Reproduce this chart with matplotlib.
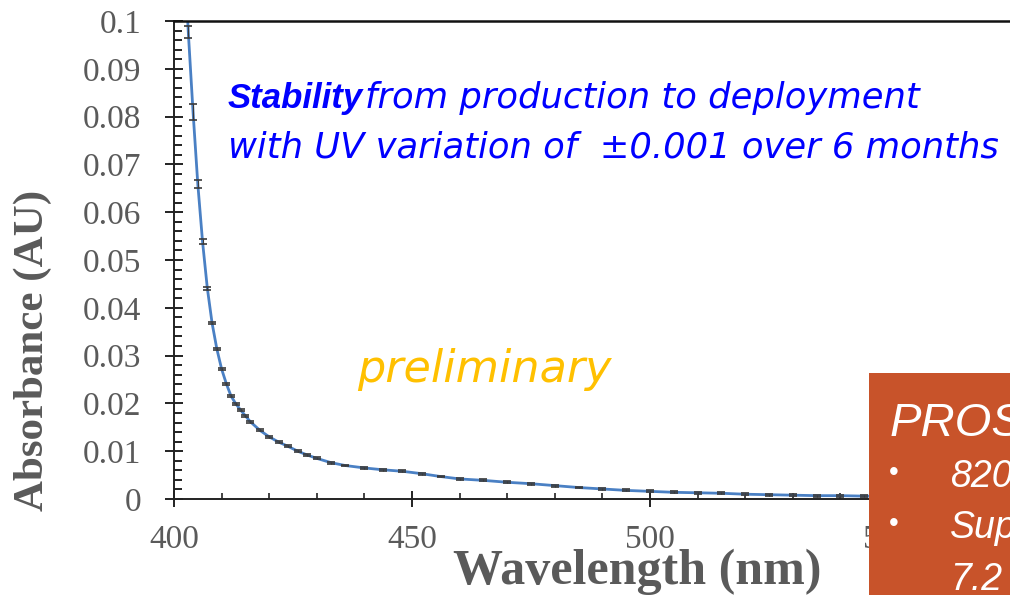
import matplotlib
matplotlib.use('Agg')
import matplotlib.pyplot as plt
from matplotlib.patches import Rectangle
from matplotlib.ticker import MultipleLocator, FuncFormatter

# absorbance spectrum with measurement error bars
wavelength = [402, 403, 404, 405, 406, 407, 408, 409, 410, 411, 412, 413, 414,
              415, 416, 418, 420, 422, 424, 426, 428, 430, 433, 436, 440, 444,
              448, 452, 456, 460, 465, 470, 475, 480, 485, 490, 495, 500, 505,
              510, 515, 520, 525, 530, 535, 540, 545, 550, 560]
absorbance = [0.118, 0.0977, 0.0810, 0.0659, 0.0538, 0.0441, 0.0368, 0.0314,
              0.0272, 0.0241, 0.0215, 0.0199, 0.0186, 0.0174, 0.0162, 0.0144,
              0.0130, 0.0119, 0.0110, 0.0100, 0.0092, 0.0085, 0.0076, 0.0070,
              0.0065, 0.0061, 0.0058, 0.0053, 0.0047, 0.0042, 0.0039, 0.0035,
              0.0032, 0.0028, 0.0024, 0.0021, 0.0018, 0.0016, 0.0014, 0.0013,
              0.0012, 0.0010, 0.0009, 0.0008, 0.0007, 0.0007, 0.0006, 0.0006,
              0.0005]
abs_err = [0.002, 0.0012, 0.0017, 0.0008, 0.0005, 0.0003, 0.0002, 0.0002,
           0.0002, 0.0002, 0.0002, 0.0002, 0.0002, 0.0002, 0.0002, 0.0002,
           0.0002, 0.0002, 0.0002, 0.0002, 0.0002, 0.0002, 0.0002, 0.0002,
           0.0002, 0.0002, 0.0002, 0.0002, 0.0002, 0.0002, 0.0002, 0.0002,
           0.0002, 0.0002, 0.0002, 0.0002, 0.0002, 0.0002, 0.0002, 0.0002,
           0.0002, 0.0002, 0.0002, 0.0002, 0.0002, 0.0002, 0.0002, 0.0002,
           0.0002]

pros_lines = ['PROS', '820', 'Sup', '7.2']

W, H = 1010, 595
fig = plt.figure(figsize=(W / 100, H / 100), dpi=100)
fig.patch.set_facecolor('white')


def px(x, y):
    # pixel position from the top-left corner -> figure fraction
    return x / W, 1 - y / H


# axes run past the right edge of the figure
ax_l, ax_t, ax_b = 174, 21, 499
ax_w = 200 * 4.76
ax = fig.add_axes([ax_l / W, 1 - ax_b / H, ax_w / W, (ax_b - ax_t) / H])

ax.plot(wavelength, absorbance, color='#4a80c4', lw=2.0, zorder=2)
ax.errorbar(wavelength, absorbance, yerr=abs_err, fmt='none', ecolor='#3a3a3a',
            elinewidth=0.8, capsize=3, capthick=1.2, zorder=3)

ax.set_xlim(400, 600)
ax.set_ylim(0, 0.1)

ax.xaxis.set_major_locator(MultipleLocator(50))
ax.xaxis.set_minor_locator(MultipleLocator(10))
ax.yaxis.set_major_locator(MultipleLocator(0.01))
ax.yaxis.set_minor_locator(MultipleLocator(0.002))
ax.yaxis.set_major_formatter(FuncFormatter(lambda v, p: f'{v:.2f}'.rstrip('0').rstrip('.') if v else '0'))

for s in ['left', 'bottom']:
    ax.spines[s].set_linewidth(1.4)
    ax.spines[s].set_color('#222222')
ax.spines['top'].set_linewidth(1.8)
ax.spines['top'].set_color('#111111')
ax.spines['right'].set_visible(False)

ax.tick_params(axis='y', which='major', direction='inout', length=13, width=1.4,
               color='#222222', pad=17)
ax.tick_params(axis='y', which='minor', direction='in', length=6, width=1.4,
               color='#222222')
ax.tick_params(axis='x', which='major', direction='inout', length=12, width=1.4,
               color='#222222', pad=12)
ax.tick_params(axis='x', which='minor', direction='in', length=4.5, width=1.2,
               color='#222222')
for lab in ax.get_xticklabels() + ax.get_yticklabels():
    lab.set_fontfamily('Liberation Serif')
    lab.set_fontsize(24)
    lab.set_color('#5a5a5a')

# axis titles
fig.text(*px(33, 350), 'Absorbance (AU)', rotation=90, ha='center', va='center',
         family='Liberation Serif', weight='bold', size=31, color='#5a5a5a')
fig.text(*px(637, 572), 'Wavelength (nm)', ha='center', va='center',
         family='Liberation Serif', weight='bold', size=36, color='#5a5a5a')

# annotations
note_font = dict(family='DejaVu Sans', style='italic', color='#0000ff', size=25.5)
renderer = fig.canvas.get_renderer()
t_bold = fig.text(*px(228, 108), 'Stability', ha='left', va='baseline',
                  family='Liberation Sans', style='italic', weight='bold',
                  color='#0000ff', size=25)
bb = t_bold.get_window_extent(renderer)
fig.text(bb.x1 / W + 2 / W, 1 - 108 / H, 'from production to deployment',
         ha='left', va='baseline', **note_font)
fig.text(*px(228, 158), 'with UV variation of  \u00b10.001 over 6 months', ha='left',
         va='baseline', **note_font)

fig.text(*px(357, 382), 'preliminary', ha='left', va='baseline', color='#ffc000',
         family='DejaVu Sans', style='italic', size=32)

# orange panel on the lower right
box = Rectangle(px(869, 595), (W - 869) / W, (595 - 373) / H, transform=fig.transFigure,
                facecolor='#c8532a', edgecolor='none', zorder=5)
fig.patches.append(box)

panel_font = dict(family='Liberation Sans', style='italic', color='white', zorder=6)
fig.text(*px(890, 436), pros_lines[0], ha='left', va='baseline', size=34, **panel_font)
fig.text(*px(894, 473), '\u2022', ha='center', va='center', size=20,
         family='Liberation Sans', color='white', zorder=6)
fig.text(*px(950, 487), pros_lines[1], ha='left', va='baseline', size=27, **panel_font)
fig.text(*px(894, 524), '\u2022', ha='center', va='center', size=20,
         family='Liberation Sans', color='white', zorder=6)
fig.text(*px(950, 538), pros_lines[2], ha='left', va='baseline', size=27, **panel_font)
fig.text(*px(950, 590), pros_lines[3], ha='left', va='baseline', size=27, **panel_font)

fig.savefig('out.png', dpi=100)
